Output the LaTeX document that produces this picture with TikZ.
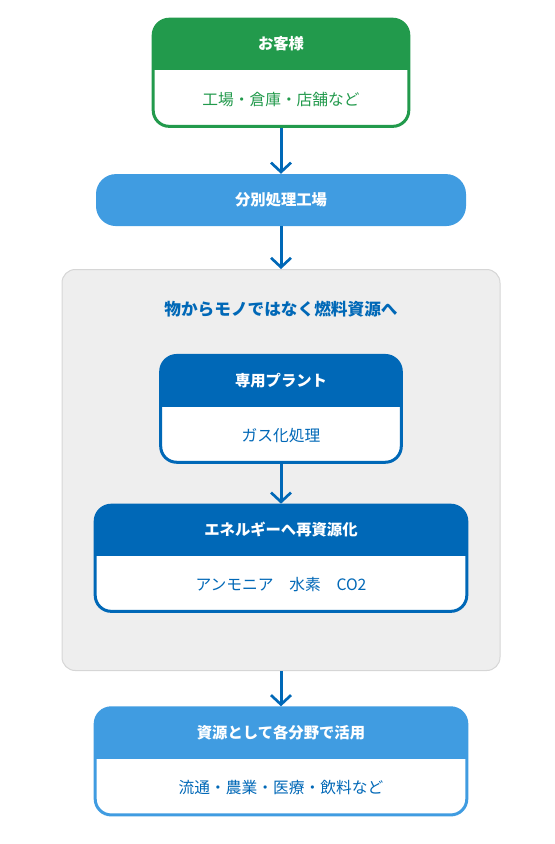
\documentclass[tikz,border=0pt]{standalone}
\usepackage{fontspec}
\setmainfont{Noto Sans CJK JP}
\usetikzlibrary{arrows.meta, positioning, fit, backgrounds, calc}
\definecolor{guestgreen}{HTML}{229A4C}
\definecolor{lightblue}{HTML}{409CE1}
\definecolor{deepblue}{HTML}{0068B7}
\definecolor{panelbg}{HTML}{EEEEEE}
\definecolor{panelline}{HTML}{D6D6D6}
\tikzset{
    headtext/.style={
        inner sep=0pt, minimum height=39pt, text=white,
        font=\bfseries\fontsize{11.5}{14}\selectfont
    },
    bodytext/.style={
        inner sep=0pt, font=\fontsize{11.8}{14}\selectfont
    },
    card/.style={
        rounded corners=12pt, fill=white, line width=2.25pt, inner sep=-1.1pt
    },
    sortbox/.style={
        rectangle, rounded corners=15pt, fill=lightblue, minimum width=277.5pt,
        minimum height=39pt, text=white, font=\bfseries\fontsize{11.5}{14}\selectfont
    },
    panel/.style={
        draw=panelline, fill=panelbg, line width=0.75pt, rounded corners=10pt,
        inner sep=0pt, minimum width=328.5pt, minimum height=300.75pt
    },
    titletext/.style={
        inner sep=0pt, text=deepblue, font=\bfseries\fontsize{12.5}{15}\selectfont
    },
    arrow/.style={
        -{Straight Barb[length=7pt, width=15pt, line width=2pt]}, line width=2.25pt, draw=deepblue
    }
}

\begin{document}
\begin{tikzpicture}

    \useasboundingbox (0,0) rectangle (416.25pt,-633pt);

    % customer
    \node[headtext, minimum width=193.5pt] (guesthead) at (210.75pt,-33pt) {お客様};
    \node[bodytext, minimum width=193.5pt, minimum height=42.75pt, text=guestgreen,
          below=0pt of guesthead] (guestbody) {工場・倉庫・店舗など};
    \begin{scope}[on background layer]
        \node[card, draw=guestgreen, fit=(guesthead)(guestbody),
              path picture={\fill[guestgreen, sharp corners] (guesthead.north west) rectangle (guesthead.south east);}] (guest) {};
    \end{scope}

    % sorting plant
    \node[sortbox, below=34.5pt of guestbody] (sort) {分別処理工場};

    % grey panel
    \begin{scope}[on background layer]
        \node[panel, below=32pt of sort] (panel) {};
    \end{scope}
    \node[titletext] (paneltitle) at ($(panel.north)+(0,-30pt)$) {物からモノではなく燃料資源へ};

    % dedicated plant
    \node[headtext, minimum width=182.25pt, below=63.75pt of panel.north] (planthead) {専用プラント};
    \node[bodytext, minimum width=182.25pt, minimum height=42.5pt, text=deepblue,
          below=0pt of planthead] (plantbody) {ガス化処理};
    \begin{scope}[on background layer]
        \node[card, draw=deepblue, fit=(planthead)(plantbody),
              path picture={\fill[deepblue, sharp corners] (planthead.north west) rectangle (planthead.south east);}] (plant) {};
    \end{scope}

    % energy
    \node[headtext, minimum width=280.5pt, below=30pt of plantbody] (energyhead) {エネルギーへ再資源化};
    \node[bodytext, minimum width=280.5pt, minimum height=42pt, text=deepblue,
          below=0pt of energyhead] (energybody) {アンモニア　水素　CO2};
    \begin{scope}[on background layer]
        \node[card, draw=deepblue, fit=(energyhead)(energybody),
              path picture={\fill[deepblue, sharp corners] (energyhead.north west) rectangle (energyhead.south east);}] (energy) {};
    \end{scope}

    % usage
    \node[headtext, minimum width=280.5pt, below=26.5pt of panel] (usehead) {資源として各分野で活用};
    \node[bodytext, minimum width=280.5pt, minimum height=42.75pt, text=deepblue,
          below=0pt of usehead] (usebody) {流通・農業・医療・飲料など};
    \begin{scope}[on background layer]
        \node[card, draw=lightblue, fit=(usehead)(usebody),
              path picture={\fill[lightblue, sharp corners] (usehead.north west) rectangle (usehead.south east);}] (use) {};
    \end{scope}

    \draw[arrow] (guest)  -- (sort);
    \draw[arrow] (sort)   -- (panel);
    \draw[arrow] (plant)  -- (energy);
    \draw[arrow] (panel)  -- (use);

\end{tikzpicture}
\end{document}
